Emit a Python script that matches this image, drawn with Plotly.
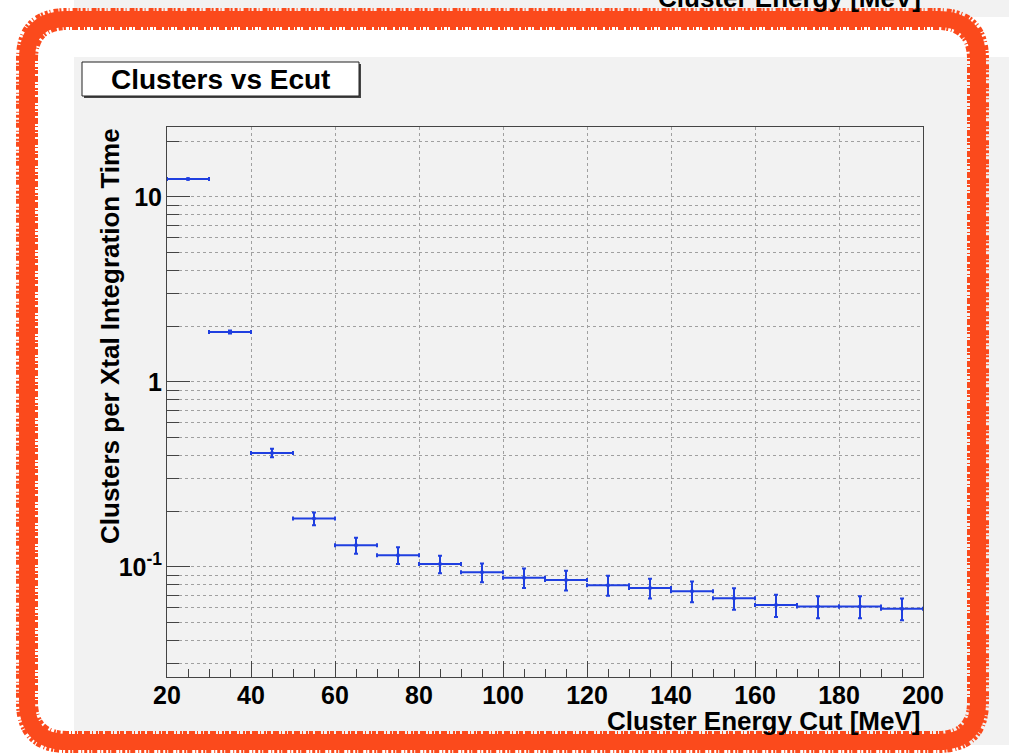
import plotly.graph_objects as go

# Cluster rate versus energy cut (10 MeV bins, 20-200 MeV)
bin_centers = [25, 35, 45, 55, 65, 75, 85, 95, 105, 115, 125, 135, 145, 155, 165, 175, 185, 195]
bin_half_width = [5] * 18
clusters = [12.5, 1.86, 0.413, 0.1825, 0.131, 0.1157, 0.1036, 0.0935, 0.0875, 0.085,
            0.0797, 0.0769, 0.0739, 0.0677, 0.0622, 0.0611, 0.0611, 0.0595]
cluster_err = [0.08, 0.035, 0.022, 0.0145, 0.013, 0.012, 0.0112, 0.0109, 0.0105, 0.0104,
               0.0098, 0.0095, 0.0094, 0.0091, 0.0086, 0.0083, 0.0083, 0.008]

y_major = [0.1, 1, 10]
y_major_text = ["10<sup>-1</sup>", "1", "10"]
y_minor = [0.03, 0.04, 0.05, 0.06, 0.07, 0.08, 0.09,
           0.2, 0.3, 0.4, 0.5, 0.6, 0.7, 0.8, 0.9,
           2, 3, 4, 5, 6, 7, 8, 9, 20]

title_text = "Clusters vs Ecut"
x_title = "Cluster Energy Cut [MeV]"
y_title = "Clusters per Xtal Integration Time"
prev_x_title = "Cluster Energy [MeV]"

W, H = 1009, 755
L, R, T, B = 167, 923, 127, 677
FONT = "Liberation Sans"
PANEL = "#f2f2f2"
BLUE = "#1f3fe0"
RED = "#fb4a1c"


def px(x):
    return (x - L) / (R - L)


def py(y):
    return (B - y) / (B - T)


fig = go.Figure()
fig.add_trace(go.Scatter(
    x=bin_centers, y=clusters, mode="markers",
    marker=dict(color=BLUE, size=4),
    error_x=dict(type="data", array=bin_half_width, color=BLUE, thickness=2, width=2),
    error_y=dict(type="data", array=cluster_err, color=BLUE, thickness=2, width=2),
    showlegend=False, hoverinfo="skip",
))

grid = dict(showgrid=True, gridcolor="#a0a0a0", griddash="dot", gridwidth=1)

fig.update_xaxes(
    range=[20, 200], tick0=20, dtick=20, ticks="inside", ticklen=16, tickwidth=1,
    tickcolor="#444", showline=True, linecolor="#444", linewidth=1, mirror=True,
    zeroline=False, ticklabelstandoff=-4,
    tickfont=dict(family=FONT, size=25, color="black", weight="bold"),
    minor=dict(dtick=5, ticks="inside", ticklen=8, tickcolor="#444", showgrid=False),
    **grid,
)
fig.update_yaxes(
    type="log", range=[-1.595, 1.378], tickmode="array", tickvals=y_major, ticktext=y_major_text,
    ticks="inside", ticklen=23, tickwidth=1, tickcolor="#444",
    showline=True, linecolor="#444", linewidth=1, mirror=True, zeroline=False,
    ticklabelstandoff=-1,
    tickfont=dict(family=FONT, size=25, color="black", weight="bold"),
    minor=dict(tickmode="array", tickvals=y_minor, ticks="inside", ticklen=12,
               tickcolor="#444", showgrid=True, gridcolor="#a0a0a0", griddash="dot"),
    **grid,
)

shapes = [
    # strip of the canvas above
    dict(type="rect", xref="paper", yref="paper", layer="below",
         x0=px(74), x1=px(1015), y0=py(-5), y1=py(17), fillcolor=PANEL, line_width=0),
    # canvas panel
    dict(type="rect", xref="paper", yref="paper", layer="below",
         x0=px(74), x1=px(1015), y0=py(57), y1=py(745), fillcolor=PANEL, line_width=0),
    # title box shadow and box
    dict(type="rect", xref="paper", yref="paper", layer="below",
         x0=px(84), x1=px(361), y0=py(64), y1=py(98), fillcolor="#444", line_width=0),
    dict(type="rect", xref="paper", yref="paper", layer="below",
         x0=px(82), x1=px(359), y0=py(62), y1=py(96), fillcolor="white",
         line=dict(color="#222", width=1)),
]


def rounded_rect(fl, ft, fr, fb, rad):
    return (f"M {px(fl)},{py(ft + rad)} Q {px(fl)},{py(ft)} {px(fl + rad)},{py(ft)} "
            f"L {px(fr - rad)},{py(ft)} Q {px(fr)},{py(ft)} {px(fr)},{py(ft + rad)} "
            f"L {px(fr)},{py(fb - rad)} Q {px(fr)},{py(fb)} {px(fr - rad)},{py(fb)} "
            f"L {px(fl + rad)},{py(fb)} Q {px(fl)},{py(fb)} {px(fl)},{py(fb - rad)} Z")


# marker-pen frame round the canvas: solid core plus broken strokes on both edges
fl, fr, ft, fb, rad = 27, 978, 19, 742, 40
shapes.append(dict(type="path", xref="paper", yref="paper", layer="above",
                   path=rounded_rect(fl, ft, fr, fb, rad),
                   line=dict(color=RED, width=16)))
for off, dash in [(-9, "3px,2px,1px,3px,5px,1px,2px,2px"), (9, "4px,1px,2px,3px,1px,2px,6px,2px")]:
    shapes.append(dict(type="path", xref="paper", yref="paper", layer="above",
                       path=rounded_rect(fl + off, ft + off, fr - off, fb - off, rad - off),
                       line=dict(color=RED, width=4, dash=dash)))

annotations = [
    dict(text=title_text, xref="paper", yref="paper", x=px(220.5), y=py(79.5),
         xanchor="center", yanchor="middle", showarrow=False,
         font=dict(family=FONT, size=28, color="black", weight="bold")),
    dict(text=x_title, xref="paper", yref="paper", x=px(923), y=py(721),
         xanchor="right", yanchor="middle", showarrow=False,
         font=dict(family=FONT, size=26, color="black", weight="bold")),
    dict(text=y_title, xref="paper", yref="paper", x=px(110), y=py(126),
         xanchor="center", yanchor="top", textangle=-90, showarrow=False,
         font=dict(family=FONT, size=26, color="black", weight="bold")),
    dict(text=prev_x_title, xref="paper", yref="paper", x=px(923), y=py(-2),
         xanchor="right", yanchor="middle", showarrow=False,
         font=dict(family=FONT, size=26, color="black", weight="bold")),
]

fig.update_layout(
    width=W, height=H, autosize=False,
    margin=dict(l=L, r=W - R, t=T, b=H - B, pad=0),
    paper_bgcolor="white", plot_bgcolor=PANEL,
    shapes=shapes, annotations=annotations,
)

fig.write_html("out.html")
